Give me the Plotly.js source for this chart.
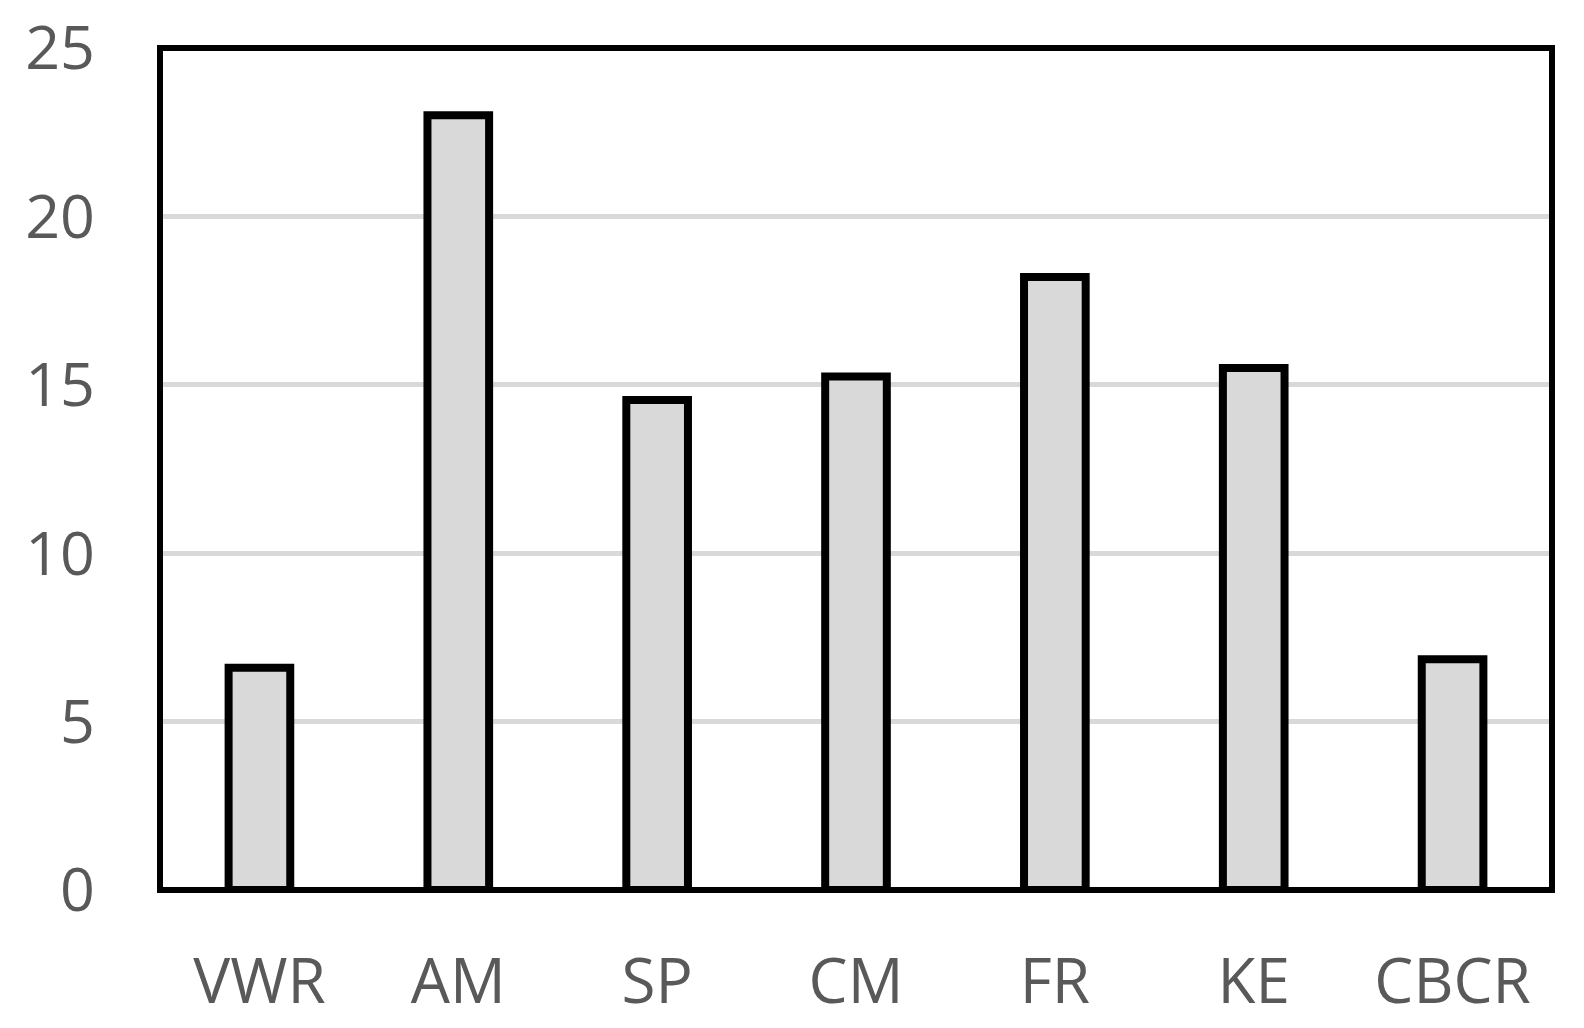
<!DOCTYPE html>
<html>
<head>
<meta charset="utf-8">
<script src="https://cdn.plot.ly/plotly-3.0.1.min.js"></script>
<style>html,body{margin:0;padding:0;background:#fff;}#chart{width:1584px;height:1028px;}</style>
</head>
<body>
<div id="chart"></div>
<script>
const categories = ["VWR", "AM", "SP", "CM", "FR", "KE", "CBCR"];
const values = [6.6, 23.0, 14.55, 15.25, 18.2, 15.5, 6.85];
const yTicks = [0, 5, 10, 15, 20, 25];

const trace = {
  type: "bar",
  x: categories,
  y: values,
  width: 0.31,
  marker: { color: "#d9d9d9", line: { color: "#000000", width: 8 } },
  hoverinfo: "x+y"
};

const layout = {
  width: 1584,
  height: 1028,
  margin: { l: 160, r: 32, t: 48, b: 137.5, pad: 0 },
  paper_bgcolor: "#ffffff",
  plot_bgcolor: "#ffffff",
  showlegend: false,
  font: { family: "Open Sans, sans-serif", color: "#595959" },
  xaxis: {
    type: "category",
    showgrid: false,
    showline: false,
    zeroline: false,
    ticks: "",
    ticklabelstandoff: 50,
    tickfont: { size: 62, color: "#595959", family: "Open Sans, sans-serif" }
  },
  yaxis: {
    range: [0, 25],
    tickvals: yTicks,
    ticktext: yTicks.map(String),
    showgrid: true,
    gridcolor: "#d9d9d9",
    gridwidth: 5,
    zeroline: false,
    showline: false,
    ticks: "",
    ticklabelstandoff: 64,
    tickfont: { size: 61, color: "#595959", family: "Open Sans, sans-serif" }
  },
  shapes: [{
    type: "rect", xref: "paper", yref: "paper",
    x0: 0, x1: 1, y0: 0, y1: 1,
    line: { color: "#000000", width: 6 },
    fillcolor: "rgba(0,0,0,0)",
    layer: "above"
  }]
};

Plotly.newPlot("chart", [trace], layout, { displayModeBar: false, staticPlot: true });
</script>
</body>
</html>
